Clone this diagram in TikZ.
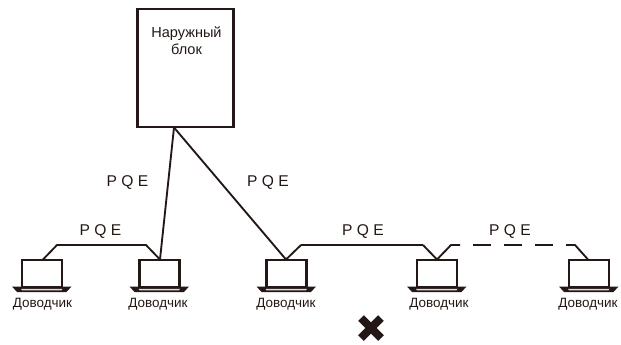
\documentclass[tikz,border=0pt]{standalone}
\usepackage{fontspec}
\setmainfont{Liberation Sans}
\definecolor{ink}{HTML}{231815}
\begin{document}
\begin{tikzpicture}[x=0.75pt,y=-0.75pt,
  wire/.style={draw=ink,line width=1.9pt,line cap=butt,line join=round},
  thinwire/.style={draw=ink,line width=1.4pt,line join=round},
  screen/.style={draw=ink,line width=1.6pt,fill=white,minimum width=30pt,minimum height=20pt,inner sep=0pt,outer sep=0pt},
  outdoor/.style={draw=ink,line width=1.8pt,minimum width=72pt,minimum height=88.5pt,inner sep=0pt,outer sep=0pt},
  unitlabel/.style={font=\fontsize{10.1}{12}\selectfont,text=ink,inner sep=0pt},
  pqe/.style={font=\fontsize{11.7}{13}\selectfont,text=ink,inner sep=0pt},
  blocklabel/.style={font=\fontsize{10.9}{12.8}\selectfont,text=ink,align=center,inner sep=0pt}]
\useasboundingbox (0,0) rectangle (621,344);
% outdoor unit
\node[outdoor] (out) at (185.5,68) {};
\node[blocklabel] (outl) at (186.5,40.5) {Наружный\\блок};
\coordinate (apex) at (174,127.5);
% indoor units
\foreach \n/\cx/\lx in {u1/42/42.5,u2/159.5/158,u3/286.5/286,u4/437/439,u5/589/588}{
  \node[screen] (\n) at (\cx,273.5) {};
  \fill[ink] (\cx-30,286.5) -- (\cx+29.5,286.5) -- (\cx+24.5,292) -- (\cx-25,292) -- cycle;
  \fill[white!85!ink] (\cx-21,288.8) -- (\cx+20.5,288.8) -- (\cx+19.5,290.3) -- (\cx-20,290.3) -- cycle;
  \node[unitlabel] (\n l) at (\lx,303.8) {Доводчик};
}
% junction points
\coordinate (a1) at (43,259.5);
\coordinate (b1) at (57,245);
\coordinate (b2) at (146,245);
\coordinate (a2) at (160,259.5);
\coordinate (a3) at (286,259.5);
\coordinate (b3) at (301,245);
\coordinate (b4) at (423,245);
\coordinate (a4) at (437,259.5);
\coordinate (b5) at (451,245);
\coordinate (b6) at (575,245);
\coordinate (a5) at (588,259.5);
% connectors
\draw[thinwire] (a1) -- (b1) -- (b2) -- (a2);
\draw[thinwire] (a2) -- (apex);
\draw[thinwire] (apex) -- (a3);
\draw[thinwire] (a3) -- (b3);
\draw[wire] (b3) -- (b4);
\draw[thinwire] (b4) -- (a4) -- (b5) -- (460,245);
\draw[wire] (473,245) -- (491,245);
\draw[wire] (504,245) -- (522,245);
\draw[wire] (535,245) -- (553,245);
\draw[thinwire] (566,245) -- (b6) -- (a5);
% labels
\node[pqe] (p1) at (100.5,232) {P Q E};
\node[pqe] (p2) at (127.5,183) {P Q E};
\node[pqe] (p3) at (268,183) {P Q E};
\node[pqe] (p4) at (363,232) {P Q E};
\node[pqe] (p5) at (510,232) {P Q E};
% cross
\draw[ink,line width=6pt] (361,318) -- (381,338) (381,318) -- (361,338);
\end{tikzpicture}
\end{document}
